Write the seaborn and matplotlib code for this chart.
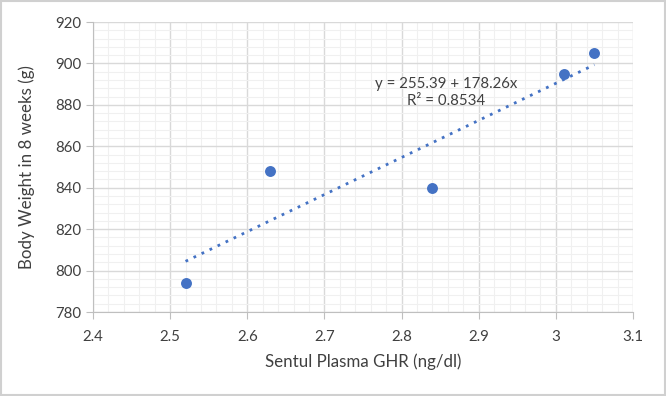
import matplotlib
matplotlib.use("Agg")
import matplotlib.pyplot as plt
import matplotlib.ticker as ticker
import seaborn as sns
import pandas as pd

ghr = [2.52, 2.63, 2.84, 3.01, 3.05]
weight = [794, 848, 840, 895, 905]
eq_text = "y = 255.39 + 178.26x\nR² = 0.8534"

sns.set_style("white")
plt.rcParams['font.family'] = ['Lato', 'DejaVu Sans']

df = pd.DataFrame({"ghr": ghr, "weight": weight})
blue = "#4472C4"

fig = plt.figure(figsize=(6.66, 3.96), dpi=100)
ax = fig.add_axes([0.1396, 0.2121, 0.8109, 0.7323])

sns.regplot(data=df, x="ghr", y="weight", ax=ax, ci=None,
            scatter_kws={"s": 62, "color": blue, "alpha": 1, "zorder": 3, "linewidths": 0},
            line_kws={"color": blue, "linestyle": (0, (1, 2.2)), "linewidth": 2})

ax.set_xlim(2.4, 3.1)
ax.set_ylim(780, 920)
ax.xaxis.set_major_locator(ticker.MultipleLocator(0.1))
ax.xaxis.set_minor_locator(ticker.MultipleLocator(0.02))
ax.yaxis.set_major_locator(ticker.MultipleLocator(20))
ax.yaxis.set_minor_locator(ticker.MultipleLocator(4))
ax.xaxis.set_major_formatter(ticker.FuncFormatter(lambda v, p: ("%.1f" % v).rstrip("0").rstrip(".") if abs(v - round(v)) < 1e-9 else "%.1f" % v))
ax.grid(which="major", color="#D9D9D9", linewidth=1)
ax.grid(which="minor", color="#F0F0F0", linewidth=0.8)
ax.set_axisbelow(True)
for s in ["top", "right"]:
    ax.spines[s].set_visible(False)
for s in ["left", "bottom"]:
    ax.spines[s].set_color("#BFBFBF")
ax.tick_params(which="major", length=5, color="#BFBFBF", labelsize=10.8, labelcolor="#404040", direction="out",
               left=True, bottom=True)
ax.tick_params(which="minor", length=0)
ax.tick_params(axis="x", pad=8)

ax.set_xlabel("Sentul Plasma GHR (ng/dl)", fontsize=12.2, color="#404040", labelpad=7)
ax.set_ylabel("Body Weight in 8 weeks (g)", fontsize=12.2, color="#404040", labelpad=14)

ax.text(2.858, 886, eq_text, ha="center", va="center", fontsize=10.8, color="#404040", linespacing=1.3)

fig.patches.append(plt.Rectangle((0.002, 0.003), 0.996, 0.994, transform=fig.transFigure,
                                 fill=False, edgecolor="#D0D0D0", linewidth=1.5))

fig.savefig("out.png", dpi=100)
